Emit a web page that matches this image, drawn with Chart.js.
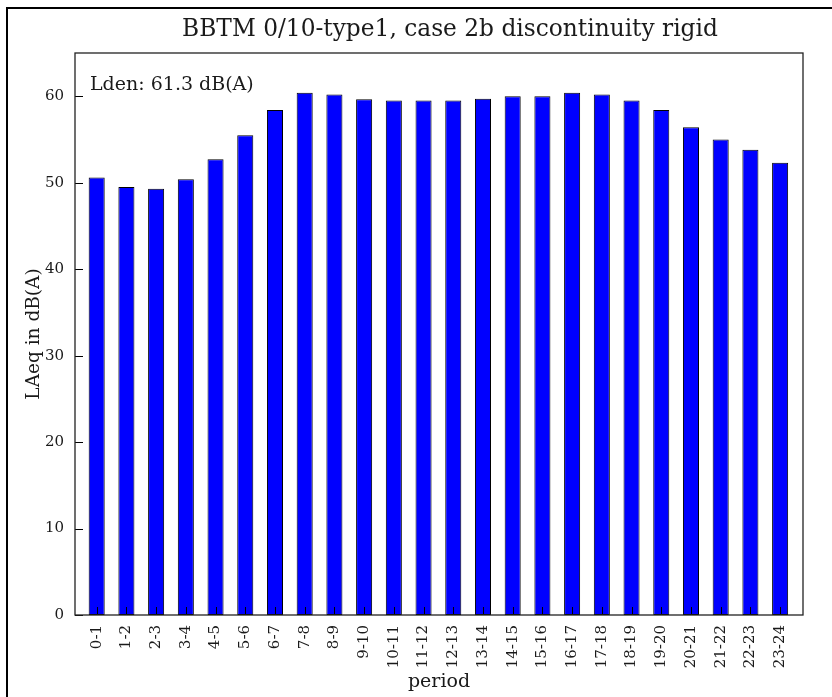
<!DOCTYPE html>
<html>
<head>
<meta charset="utf-8">
<script src="https://cdn.jsdelivr.net/npm/chart.js@4"></script>
<style>
  html, body { margin: 0; padding: 0; background: #fff; }
  #wrap { position: relative; width: 832px; height: 697px; }
</style>
</head>
<body>
<div id="wrap"><canvas id="c" width="832" height="697"></canvas></div>
<script>
const titleText = 'BBTM 0/10-type1, case 2b discontinuity rigid';
const annotationText = 'Lden: 61.3 dB(A)';
const yAxisTitle = 'LAeq in dB(A)';
const xAxisTitle = 'period';
const periods = ['0-1','1-2','2-3','3-4','4-5','5-6','6-7','7-8','8-9','9-10','10-11','11-12',
                 '12-13','13-14','14-15','15-16','16-17','17-18','18-19','19-20','20-21','21-22','22-23','23-24'];
const laeq = [50.6, 49.5, 49.3, 50.4, 52.7, 55.5, 58.4, 60.4, 60.2, 59.65, 59.5, 59.5,
              59.5, 59.7, 60.0, 60.0, 60.4, 60.2, 59.5, 58.4, 56.4, 55.0, 53.8, 52.3];
const yTicks = [0, 10, 20, 30, 40, 50, 60];

const FONT = "'DejaVu Serif', serif";
const TXT = '#1a1a1a';

const framePlugin = {
  id: 'frame',
  beforeDraw(chart) {
    const ctx = chart.ctx;
    ctx.save();
    ctx.strokeStyle = '#000';
    ctx.lineWidth = 2;
    ctx.beginPath();
    ctx.moveTo(7, 697);
    ctx.lineTo(7, 8);
    ctx.lineTo(832, 8);
    ctx.stroke();
    ctx.fillStyle = TXT;
    ctx.font = "23.3px " + FONT;
    ctx.textAlign = 'center';
    ctx.textBaseline = 'middle';
    ctx.fillText(titleText, 450, 30);
    ctx.restore();
  },
  afterDatasetsDraw(chart) {
    const ctx = chart.ctx;
    const a = chart.chartArea;
    const xs = chart.scales.x, ys = chart.scales.y;
    ctx.save();
    ctx.strokeStyle = '#000';
    ctx.lineWidth = 1;
    ctx.beginPath();
    yTicks.forEach(v => {
      const y = Math.round(ys.getPixelForValue(v)) + 0.5;
      ctx.moveTo(a.left, y);
      ctx.lineTo(a.left + 8, y);
    });
    periods.forEach((p, i) => {
      const x = Math.round(xs.getPixelForValue(i)) + 0.5;
      ctx.moveTo(x, a.bottom);
      ctx.lineTo(x, a.bottom - 8);
    });
    ctx.stroke();
    ctx.strokeStyle = '#222';
    ctx.lineWidth = 1.3;
    ctx.strokeRect(a.left, a.top, a.right - a.left, a.bottom - a.top);
    ctx.fillStyle = TXT;
    ctx.font = "19px " + FONT;
    ctx.textAlign = 'left';
    ctx.textBaseline = 'middle';
    ctx.fillText(annotationText, a.left + 15, 85);
    ctx.restore();
  }
};

new Chart(document.getElementById('c'), {
  type: 'bar',
  data: {
    datasets: [{
      data: laeq.map((v, i) => ({ x: i, y: v })),
      backgroundColor: '#0000ff',
      borderColor: '#000',
      borderWidth: 1,
      borderSkipped: false,
      barPercentage: 0.54,
      categoryPercentage: 1.0
    }]
  },
  options: {
    responsive: false,
    animation: false,
    devicePixelRatio: 1,
    layout: { padding: { left: 0, right: 29, top: 53, bottom: 0 } },
    plugins: {
      legend: { display: false },
      tooltip: { enabled: false },
      title: { display: false }
    },
    scales: {
      x: {
        type: 'linear',
        min: -0.73,
        max: 23.77,
        offset: false,
        grid: { display: false },
        border: { display: false },
        ticks: {
          stepSize: 1,
          autoSkip: false,
          includeBounds: false,
          maxRotation: 90,
          minRotation: 90,
          padding: 2,
          color: TXT,
          font: { family: FONT, size: 15 },
          callback: v => periods[v]
        },
        title: {
          display: true,
          text: xAxisTitle,
          color: TXT,
          font: { family: FONT, size: 19 },
          padding: { top: 0, bottom: 4 }
        },
        afterFit(s) { s.height = 82; }
      },
      y: {
        min: 0,
        max: 65,
        grid: { display: false },
        border: { display: false },
        ticks: {
          stepSize: 10,
          includeBounds: false,
          padding: 3,
          color: TXT,
          font: { family: FONT, size: 15 }
        },
        title: {
          display: true,
          text: yAxisTitle,
          color: TXT,
          font: { family: FONT, size: 18.5 },
          padding: { top: 23, bottom: 0 }
        },
        afterFit(s) { s.width = 75; }
      }
    }
  },
  plugins: [framePlugin]
});
</script>
</body>
</html>
